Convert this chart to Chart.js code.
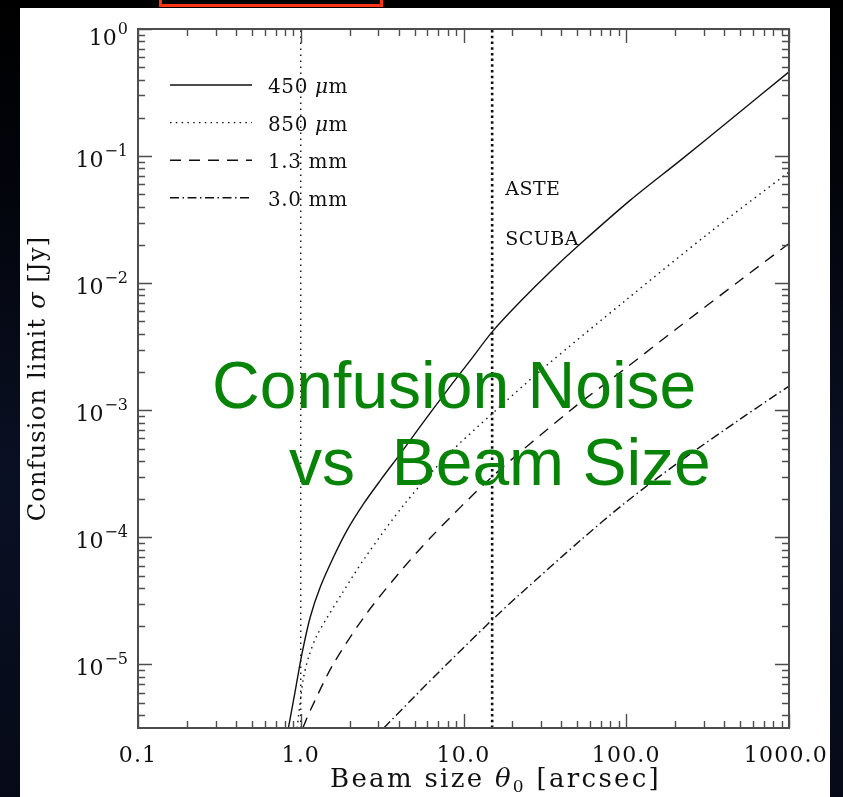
<!DOCTYPE html>
<html>
<head>
<meta charset="utf-8">
<script src="https://cdn.jsdelivr.net/npm/chart.js@4.4.1/dist/chart.umd.min.js"></script>
<style>
  html, body { margin: 0; padding: 0; width: 843px; height: 797px; overflow: hidden; }
  body { background: linear-gradient(to bottom, #000 0%, #03050c 25%, #0a1024 60%, #060a18 100%); position: relative; }
  #tag { position: absolute; left: 159px; top: -14px; width: 218px; height: 15px; border: 3px solid #ff3412; background: #000; }
  #panel { position: absolute; left: 20px; top: 8px; width: 810px; height: 789px; background: #fff; }
  #chart { display: block; }
</style>
</head>
<body>
<div id="tag"></div>
<div id="panel"><canvas id="chart" width="810" height="789"></canvas></div>
<script>
// Confusion limit sigma [Jy] versus beam size theta_0 [arcsec]
const seriesNames = ['450 μm', '850 μm', '1.3 mm', '3.0 mm'];

const beam450  = [0.841, 0.925, 1.017, 1.144, 1.318, 1.59, 1.924, 2.435, 3.085, 4.096, 5.44, 7.94, 11.04, 15.0, 22.4, 35, 52.5, 106, 216, 440, 1000];
const sigma450 = [3.2e-6, 6.2e-6, 1.21e-5, 2.36e-5, 4.06e-5, 7.0e-5, 1.135e-4, 1.84e-4, 2.81e-4, 4.56e-4, 7.5e-4, 1.435e-3, 2.48e-3, 4.14e-3, 7.2e-3, 1.27e-2, 2.05e-2, 4.5e-2, 9.3e-2, 0.195, 0.46];

const beam850  = [0.95, 1.0, 1.04, 1.12, 1.26, 1.79, 2.5, 4.3, 7.94, 15, 31.6, 100, 316, 1000];
const sigma850 = [3.16e-6, 5.5e-6, 7.9e-6, 1.15e-5, 1.7e-5, 3.6e-5, 7.0e-5, 1.8e-4, 4.4e-4, 9.4e-4, 2.19e-3, 7.4e-3, 2.43e-2, 7.5e-2];

const beam1300  = [1.03, 1.14, 1.58, 2.5, 4.0, 6.3, 15, 45.5, 100, 200, 500, 1000];
const sigma1300 = [3.16e-6, 4.3e-6, 1.0e-5, 2.45e-5, 5.2e-5, 1.0e-4, 3.0e-4, 1.0e-3, 2.16e-3, 4.3e-3, 1.05e-2, 2.05e-2];

const beam3000  = [3.24, 4.94, 8.3, 15, 22.4, 52.5, 100, 216, 500, 1000];
const sigma3000 = [3.16e-6, 5.5e-6, 1.07e-5, 2.24e-5, 3.6e-5, 9.5e-5, 1.9e-4, 4.0e-4, 8.5e-4, 1.55e-3];

// Telescope beam markers
const markerBeams = [1.0, 15];
const markerNames = ['ASTE', 'SCUBA'];

// Axis ranges and labels
const xMin = 0.1, xMax = 1000;
const yMin = 3.16e-6, yMax = 1;
const xTickValues = [0.1, 1, 10, 100, 1000];
const xTickLabels = ['0.1', '1.0', '10.0', '100.0', '1000.0'];
const yTickExponents = [0, -1, -2, -3, -4, -5];

const pairs = (xs, ys) => xs.map((v, i) => ({ x: v, y: ys[i] }));

const SERIF = '"DejaVu Serif", serif';
const INK = '#111';

function curve(label, xs, ys, dash) {
  return {
    label, data: pairs(xs, ys), borderColor: INK, borderWidth: 1.4,
    borderDash: dash, pointRadius: 0, fill: false, tension: 0.3, clip: 2
  };
}
function marker(xv, width, dash) {
  return {
    label: 'beam ' + xv, data: [{ x: xv, y: yMin }, { x: xv, y: yMax }],
    borderColor: INK, borderWidth: width, borderDash: dash,
    pointRadius: 0, fill: false, tension: 0, isMarker: true
  };
}

// Text runs: Greek letters set in italics, optional per-letter spacing
function segs(str, size) {
  const out = [];
  for (const ch of str) {
    const greek = /[\u0370-\u03ff]/.test(ch);
    const last = out[out.length - 1];
    if (last && last.it === greek && !last.dy) last.t += ch;
    else out.push({ t: ch, it: greek, s: size, dy: 0 });
  }
  return out;
}
function font(p) { return (p.it ? 'italic ' : '') + p.s + 'px ' + SERIF; }
function runWidth(ctx, parts, sp) {
  let w = 0;
  ctx.letterSpacing = '0px';
  for (const p of parts) { ctx.font = font(p); w += ctx.measureText(p.t).width + sp * [...p.t].length; }
  return w;
}
function drawRun(ctx, parts, x, y, sp) {
  for (const p of parts) {
    ctx.font = font(p);
    ctx.letterSpacing = '0px';
    const adv = ctx.measureText(p.t).width + sp * [...p.t].length;
    ctx.letterSpacing = sp + 'px';
    ctx.fillText(p.t, x, y + p.dy);
    x += adv;
  }
  ctx.letterSpacing = '0px';
}

const frame = {
  id: 'frame',
  afterDatasetsDraw(chart) {
    const { ctx, chartArea: a, scales: { x, y } } = chart;
    ctx.save();

    // inward ticks on all four sides
    ctx.strokeStyle = '#4d4d4d';
    ctx.lineWidth = 1.4;
    ctx.beginPath();
    for (let d = -1; d <= 3; d++) {
      for (let k = 1; k <= 9; k++) {
        const v = k * Math.pow(10, d);
        if (v < xMin || v > xMax) continue;
        const px = Math.round(x.getPixelForValue(v)) + 0.5;
        const len = k === 1 ? 14 : 7;
        ctx.moveTo(px, a.bottom); ctx.lineTo(px, a.bottom - len);
        ctx.moveTo(px, a.top); ctx.lineTo(px, a.top + len);
      }
    }
    for (let d = -6; d <= 0; d++) {
      for (let k = 1; k <= 9; k++) {
        const v = k * Math.pow(10, d);
        if (v < yMin || v > yMax) continue;
        const py = Math.round(y.getPixelForValue(v)) + 0.5;
        const len = k === 1 ? 14 : 7;
        ctx.moveTo(a.left, py); ctx.lineTo(a.left + len, py);
        ctx.moveTo(a.right, py); ctx.lineTo(a.right - len, py);
      }
    }
    ctx.stroke();

    // frame
    ctx.lineWidth = 2;
    ctx.strokeRect(a.left, a.top, a.right - a.left, a.bottom - a.top);

    ctx.fillStyle = INK;
    ctx.textBaseline = 'alphabetic';
    ctx.textAlign = 'left';

    // x tick labels
    xTickValues.forEach((v, i) => {
      const parts = segs(xTickLabels[i], 22);
      const w = runWidth(ctx, parts, 1.2);
      let cx = x.getPixelForValue(v);
      cx = Math.min(cx, chart.width - 2 - w / 2);
      drawRun(ctx, parts, cx - w / 2, a.bottom + 34, 1.2);
    });

    // y tick labels 10^n
    const rightEdge = a.left - 10;
    yTickExponents.forEach(n => {
      const py = y.getPixelForValue(Math.pow(10, n));
      const base = n === 0 ? py + 16 : py + 11;
      const sup = n === 0 ? '0' : '\u2212' + (-n);
      ctx.font = '16px ' + SERIF;
      const sw = ctx.measureText(sup).width;
      ctx.fillText(sup, rightEdge - sw, base - 11);
      ctx.font = '22px ' + SERIF;
      const tw = ctx.measureText('10').width;
      ctx.fillText('10', rightEdge - sw - tw - 1, base);
    });

    // x axis title
    const xt = [].concat(segs('Beam size ', 26), segs('θ', 26),
      [{ t: '0', it: false, s: 17, dy: 5 }], segs(' [arcsec]', 26));
    drawRun(ctx, xt, 310, a.bottom + 59, 2.3);

    // y axis title
    const yt = segs('Confusion limit σ [Jy]', 24);
    const yw = runWidth(ctx, yt, 1.2);
    ctx.save();
    ctx.translate(25, (a.top + a.bottom) / 2);
    ctx.rotate(-Math.PI / 2);
    drawRun(ctx, yt, -yw / 2, 0, 1.2);
    ctx.restore();

    // legend
    const curves = chart.data.datasets.filter(ds => !ds.isMarker);
    curves.forEach((ds, i) => {
      const ly = a.top + 56 + i * 37.6;
      ctx.strokeStyle = INK;
      ctx.lineWidth = 1.4;
      ctx.setLineDash(ds.borderDash || []);
      ctx.beginPath();
      ctx.moveTo(a.left + 32, ly); ctx.lineTo(a.left + 114, ly);
      ctx.stroke();
      ctx.setLineDash([]);
      drawRun(ctx, segs(seriesNames[i], 20), a.left + 130, ly + 8, 0.6);
    });

    // telescope annotations beside the 15" beam line
    const mx = x.getPixelForValue(markerBeams[1]) + 13;
    drawRun(ctx, segs(markerNames[0], 19), mx, a.top + 166, 0.5);
    drawRun(ctx, segs(markerNames[1], 19), mx, a.top + 216, 0.5);

    // headline
    ctx.fillStyle = '#078407';
    ctx.font = '66px "Liberation Sans", Arial, sans-serif';
    ctx.fillText('Confusion Noise', 192, 400);
    ctx.fillText('vs  Beam Size', 269, 477);

    ctx.restore();
  }
};

new Chart(document.getElementById('chart'), {
  type: 'line',
  data: {
    datasets: [
      curve(seriesNames[0], beam450, sigma450, []),
      curve(seriesNames[1], beam850, sigma850, [1.5, 4.3]),
      curve(seriesNames[2], beam1300, sigma1300, [11, 8]),
      curve(seriesNames[3], beam3000, sigma3000, [9, 3.5, 1.5, 3.5]),
      marker(markerBeams[0], 1.4, [1.5, 4.5]),
      marker(markerBeams[1], 2.6, [2.5, 3.2])
    ]
  },
  options: {
    responsive: false,
    animation: false,
    layout: { padding: { left: 118, top: 21, right: 41, bottom: 69 } },
    scales: {
      x: { type: 'logarithmic', min: xMin, max: xMax, display: false },
      y: { type: 'logarithmic', min: yMin, max: yMax, display: false }
    },
    plugins: { legend: { display: false }, tooltip: { enabled: false } }
  },
  plugins: [frame]
});
</script>
</body>
</html>
